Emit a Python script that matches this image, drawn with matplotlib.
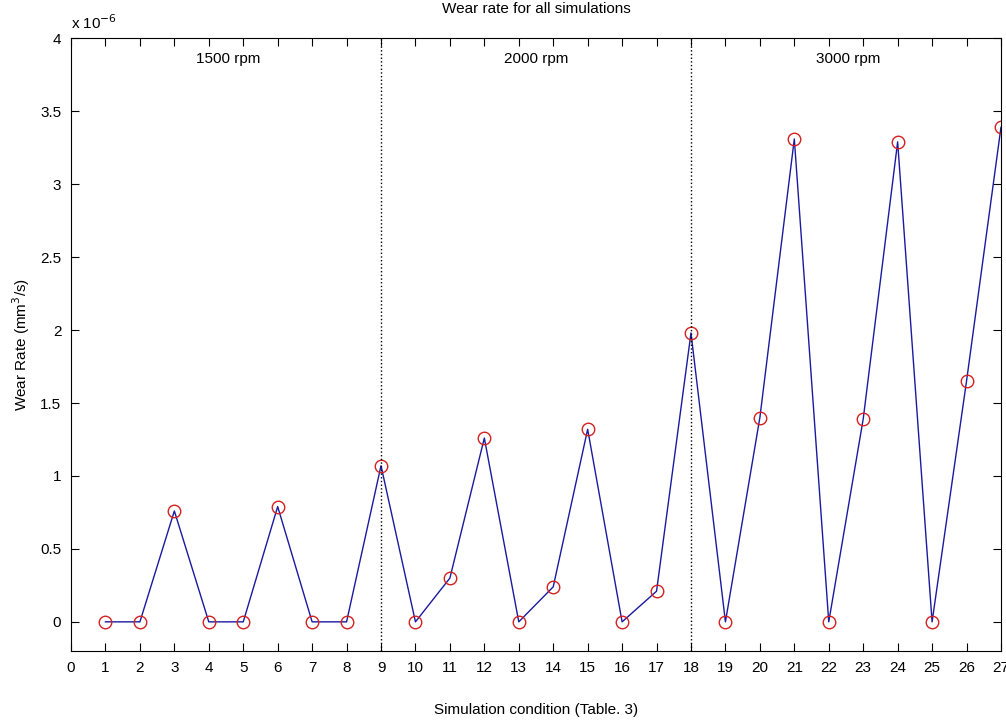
import matplotlib
matplotlib.use("Agg")
import matplotlib.pyplot as plt
import numpy as np

plt.rcParams['font.family'] = ['Liberation Sans', 'DejaVu Sans']

# condiciones de simulación y tasa de desgaste (x 1e-6 mm^3/s)
cond = list(range(1, 28))
wear = [0, 0, 0.76, 0, 0, 0.79, 0, 0, 1.07,
        0, 0.30, 1.26, 0, 0.24, 1.32, 0, 0.21, 1.98,
        0, 1.40, 3.31, 0, 1.39, 3.29, 0, 1.65, 3.39]

# separadores y etiquetas de velocidad
sep = [9, 18]
rpm_labels = ['1500 rpm', '2000 rpm', '3000 rpm']
rpm_x = [4.55, 13.5, 22.55]

fig = plt.figure(figsize=(10.06, 7.22), dpi=100)
ax = fig.add_axes([0.0706, 0.0983, 0.9244, 0.8487])

ax.plot(cond, wear, color='#1a1aa0', linewidth=1)
ax.plot(cond, wear, 'o', markerfacecolor='none', markeredgecolor='#d42020',
        markersize=9, markeredgewidth=1)

for s in sep:
    ax.axvline(s, color='black', linestyle=':', linewidth=1)

for lab, xx in zip(rpm_labels, rpm_x):
    ax.text(xx, 3.86, lab, ha='center', va='center', fontsize=11)

ax.set_xlim(0, 27)
ax.set_ylim(-0.2, 4)
ax.set_xticks(range(0, 28))
ax.set_yticks(np.arange(0, 4.01, 0.5))
ax.set_yticklabels(['0', '0.5', '1', '1.5', '2', '2.5', '3', '3.5', '4'])
ax.tick_params(direction='in', top=True, right=True, length=6, labelsize=11, pad=7)

ax.text(0, 4.04, 'x 10$^{-6}$', fontsize=11, ha='left', va='bottom')

ax.set_title('Wear rate for all simulations', fontsize=11, pad=18)
ax.set_xlabel('Simulation condition (Table. 3)', fontsize=11, labelpad=20)
ax.set_ylabel('Wear Rate (mm$^3$/s)', fontsize=11, labelpad=6)

fig.savefig('out.png', dpi=100)
